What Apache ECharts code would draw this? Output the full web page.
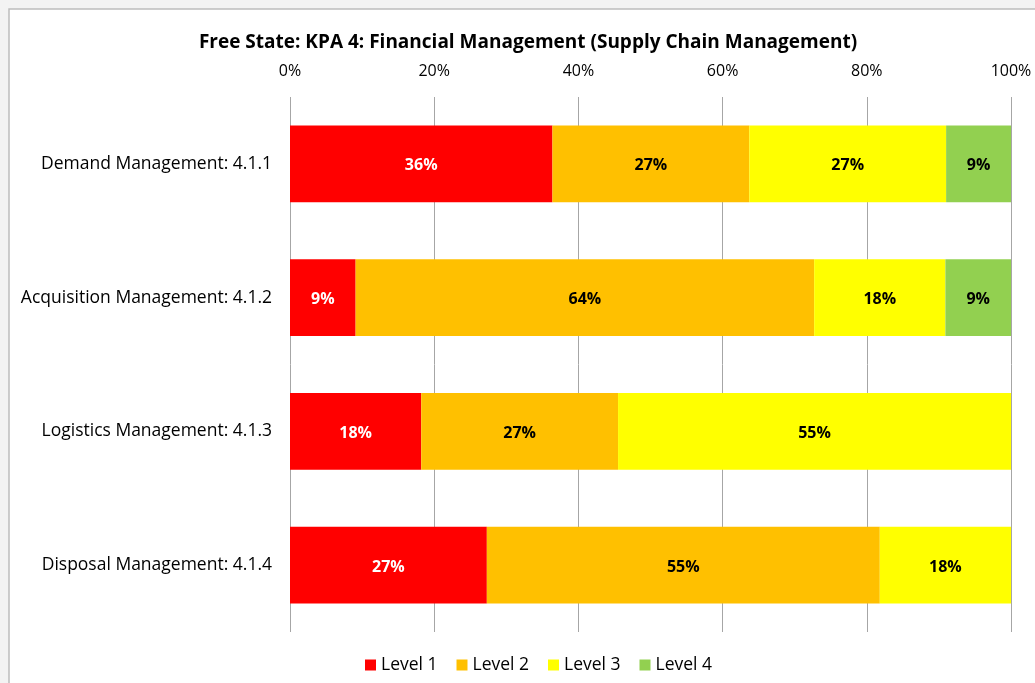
<!DOCTYPE html>
<html>
<head>
<meta charset="utf-8">
<script src="https://cdn.jsdelivr.net/npm/echarts@6/dist/echarts.min.js"></script>
<style>
  html, body { margin: 0; padding: 0; background: #f3f3f3; }
  #main { width: 1035px; height: 683px; }
</style>
</head>
<body>
<div id="main"></div>
<script>
var categories = ['Demand Management: 4.1.1', 'Acquisition Management: 4.1.2', 'Logistics Management: 4.1.3', 'Disposal Management: 4.1.4']
var level1 = [36.4, 9.1, 18.2, 27.3]
var level2 = [27.3, 63.6, 27.3, 54.5]
var level3 = [27.3, 18.2, 54.5, 18.2]
var level4 = [9.0, 9.1, 0, 0]
var seriesNames = ['Level 1', 'Level 2', 'Level 3', 'Level 4']
var colors = ['#ff0000', '#ffc000', '#ffff00', '#92d050']

var font = '"Open Sans", sans-serif'

function makeSeries (name, data, color, labelColor) {
  return {
    name: name,
    type: 'bar',
    stack: 'total',
    barWidth: '57.5%',
    data: data,
    itemStyle: { color: color },
    label: {
      show: true,
      position: 'inside',
      offset: [0, 2],
      color: labelColor,
      fontWeight: 'bold',
      fontSize: 16,
      fontFamily: font,
      formatter: function (p) { return p.value > 0 ? Math.round(p.value) + '%' : '' }
    }
  }
}

var myChart = echarts.init(document.getElementById('main'))
var option = {
  backgroundColor: '#f3f3f3',
  animation: false,
  graphic: [{
    type: 'rect',
    z: -10,
    shape: { x: 9, y: 9, width: 1040, height: 690 },
    style: { fill: '#ffffff', stroke: '#bdbdbd', lineWidth: 1.5 }
  }],
  title: {
    text: 'Free State: KPA 4: Financial Management (Supply Chain Management)',
    left: 523,
    textAlign: 'center',
    top: 28,
    textStyle: { fontSize: 19, fontWeight: 'bold', color: '#000', fontFamily: font }
  },
  legend: {
    data: seriesNames,
    bottom: 4,
    left: 360,
    itemWidth: 11,
    itemHeight: 11,
    itemGap: 19,
    icon: 'rect',
    textStyle: { fontSize: 17.5, color: '#000', fontFamily: font }
  },
  grid: { left: 290, right: 24, top: 97, bottom: 51 },
  xAxis: {
    type: 'value',
    position: 'top',
    min: 0,
    max: 100,
    interval: 20,
    axisLine: { show: false },
    axisTick: { show: false },
    axisLabel: {
      formatter: '{value}%',
      fontSize: 16,
      color: '#000',
      fontFamily: font,
      margin: 18
    },
    splitLine: { lineStyle: { color: '#a6a6a6', width: 1 } }
  },
  yAxis: {
    type: 'category',
    inverse: true,
    data: categories,
    axisLine: { show: false },
    axisTick: { show: false },
    axisLabel: { fontSize: 17.5, color: '#000', fontFamily: font, margin: 18 }
  },
  series: [
    makeSeries(seriesNames[0], level1, colors[0], '#ffffff'),
    makeSeries(seriesNames[1], level2, colors[1], '#000000'),
    makeSeries(seriesNames[2], level3, colors[2], '#000000'),
    makeSeries(seriesNames[3], level4, colors[3], '#000000')
  ]
}
myChart.setOption(option)
</script>
</body>
</html>
